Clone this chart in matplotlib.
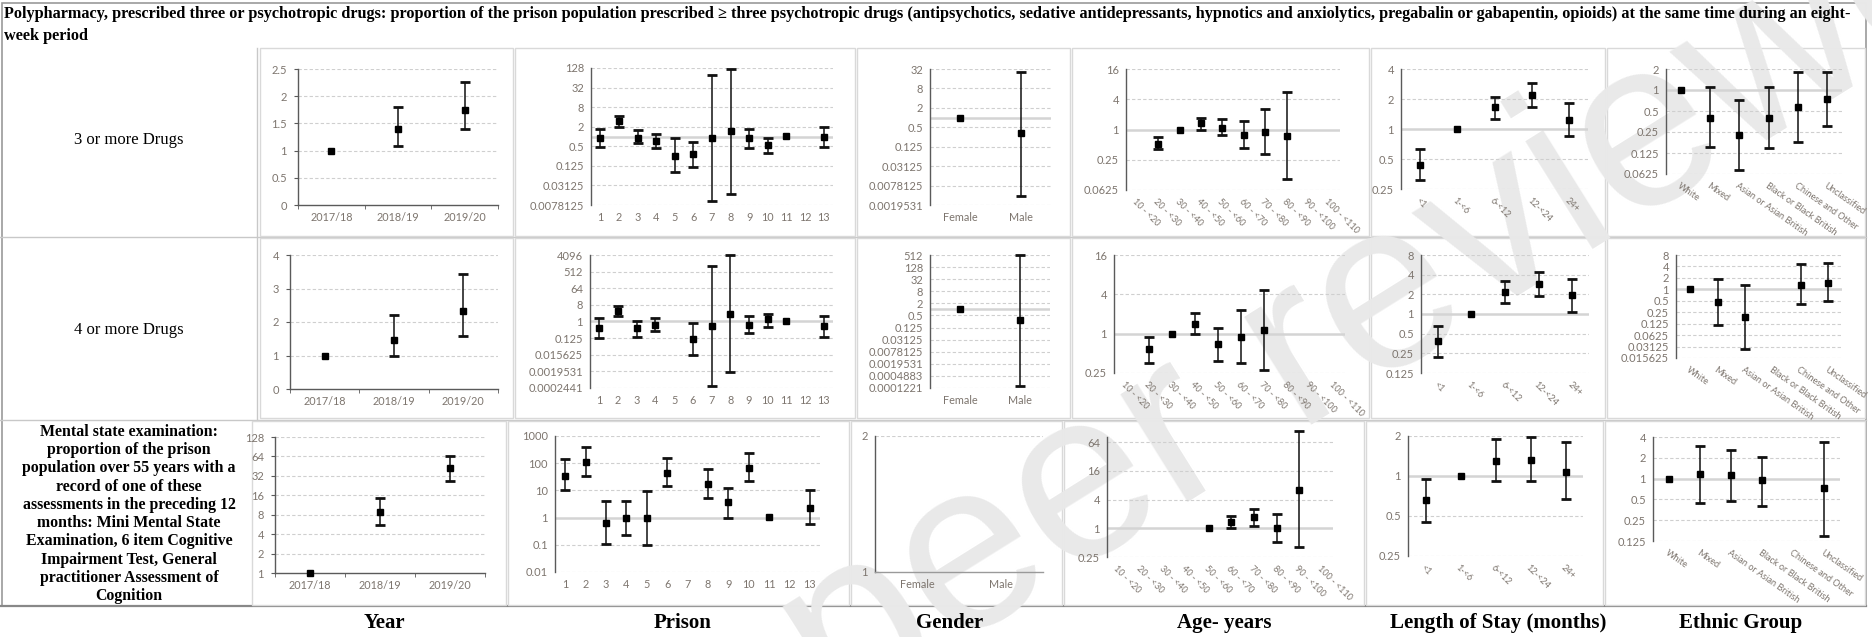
import numpy as np
import matplotlib
matplotlib.use("Agg")
import matplotlib.pyplot as plt
from matplotlib.patches import Rectangle
from matplotlib.ticker import NullLocator, FixedLocator

NaN = np.nan

# ---------------- categories ----------------
years = ["2017/18", "2018/19", "2019/20"]
prisons = ["1", "2", "3", "4", "5", "6", "7", "8", "9", "10", "11", "12", "13"]
genders = ["Female", "Male"]
ages = ["10 - <20", "20 - <30", "30 - <40", "40 - <50", "50 - <60", "60 - <70",
        "70 - <80", "80 - <90", "90 - <100", "100 - <110"]
stays = ["<1", "1-<6", "6-<12", "12-<24", "24+"]
ethnic = ["White", "Mixed", "Asian or Asian British", "Black or Black British",
          "Chinese and Other", "Unclassified"]

# ---------------- row 1: 3 or more drugs ----------------
r1_year_est = [1, 1.40, 1.75]
r1_year_lo = [NaN, 1.08, 1.40]
r1_year_hi = [NaN, 1.80, 2.27]
r1_prison_est = [0.87, 3.0, 0.93, 0.73, 0.25, 0.28, 0.87, 1.43, 0.87, 0.54, 1.05, NaN, 0.95]
r1_prison_lo = [0.48, 2.0, 0.61, 0.44, 0.08, 0.118, 0.0103, 0.0165, 0.45, 0.30, NaN, NaN, 0.48]
r1_prison_hi = [1.7, 4.35, 1.53, 1.18, 0.89, 0.67, 77, 121, 1.7, 0.93, NaN, NaN, 2.0]
r1_gender_est = [1, 0.33]
r1_gender_lo = [NaN, 0.0037]
r1_gender_hi = [NaN, 25.8]
r1_age_est = [NaN, 0.51, 1, 1.32, 1.06, 0.79, 0.88, 0.74, NaN, NaN]
r1_age_lo = [NaN, 0.40, NaN, 1.0, 0.77, 0.43, 0.33, 0.104, NaN, NaN]
r1_age_hi = [NaN, 0.71, NaN, 1.69, 1.59, 1.49, 2.56, 5.7, NaN, NaN]
r1_stay_est = [0.44, 1, 1.67, 2.19, 1.22]
r1_stay_lo = [0.31, NaN, 1.26, 1.66, 0.85]
r1_stay_hi = [0.63, NaN, 2.11, 2.9, 1.84]
r1_eth_est = [1, 0.40, 0.23, 0.40, 0.57, 0.74]
r1_eth_lo = [NaN, 0.15, 0.072, 0.148, 0.18, 0.30]
r1_eth_hi = [NaN, 1.1, 0.71, 1.1, 1.79, 1.79]

# ---------------- row 2: 4 or more drugs ----------------
r2_year_est = [1, 1.45, 2.33]
r2_year_lo = [NaN, 0.98, 1.58]
r2_year_hi = [NaN, 2.22, 3.42]
r2_prison_est = [0.47, 3.5, 0.42, 0.66, NaN, 0.107, 0.56, 2.5, 0.66, 1.34, 1.1, NaN, 0.56]
r2_prison_lo = [0.13, 1.94, 0.15, 0.29, NaN, 0.0146, 0.00032, 0.0017, 0.24, 0.51, NaN, NaN, 0.15]
r2_prison_hi = [1.5, 6.7, 1.13, 1.5, NaN, 0.78, 980, 4200, 2.1, 2.5, NaN, NaN, 2.1]
r2_gender_est = [1, 0.29]
r2_gender_lo = [NaN, 0.00016]
r2_gender_hi = [NaN, 540]
r2_age_est = [NaN, 0.58, 1, 1.41, 0.69, 0.89, 1.13, NaN, NaN, NaN]
r2_age_lo = [NaN, 0.36, NaN, 1.0, 0.38, 0.36, 0.275, NaN, NaN, NaN]
r2_age_hi = [NaN, 0.88, NaN, 2.05, 1.24, 2.29, 4.64, NaN, NaN, NaN]
r2_stay_est = [0.38, 1, 2.14, 2.88, 1.95]
r2_stay_lo = [0.22, NaN, 1.47, 1.86, 1.06]
r2_stay_hi = [0.66, NaN, 3.2, 4.35, 3.43]
r2_eth_est = [1, 0.46, 0.19, NaN, 1.30, 1.47]
r2_eth_lo = [NaN, 0.115, 0.027, NaN, 0.42, 0.48]
r2_eth_hi = [NaN, 1.84, 1.33, NaN, 4.6, 5.0]

# ---------------- row 3: mental state examination ----------------
r3_year_est = [1, 8.9, 42.5]
r3_year_lo = [NaN, 5.6, 26.8]
r3_year_hi = [NaN, 14.3, 65]
r3_prison_est = [35, 108, 0.66, 0.95, 0.95, 45, NaN, 17.7, 3.7, 69, 1.08, NaN, 2.3]
r3_prison_lo = [10.4, 35, 0.11, 0.22, 0.10, 14.6, NaN, 5.1, 1.0, 23, NaN, NaN, 0.6]
r3_prison_hi = [139, 395, 4.2, 4.2, 9.3, 152, NaN, 62, 12.6, 245, NaN, NaN, 10.4]
r3_gender_est = [NaN, NaN]
r3_gender_lo = [NaN, NaN]
r3_gender_hi = [NaN, NaN]
r3_age_est = [NaN, NaN, NaN, NaN, 1, 1.36, 1.70, 1.03, 6.5, NaN]
r3_age_lo = [NaN, NaN, NaN, NaN, NaN, 1.0, 1.13, 0.52, 0.40, NaN]
r3_age_hi = [NaN, NaN, NaN, NaN, NaN, 1.83, 2.53, 2.02, 108, NaN]
r3_stay_est = [0.66, 1, 1.30, 1.33, 1.08]
r3_stay_lo = [0.45, NaN, 0.91, 0.91, 0.67]
r3_stay_hi = [0.95, NaN, 1.89, 1.98, 1.80]
r3_eth_est = [1, 1.17, 1.12, 0.95, NaN, 0.72]
r3_eth_lo = [NaN, 0.45, 0.47, 0.40, NaN, 0.15]
r3_eth_hi = [NaN, 3.0, 2.6, 2.08, NaN, 3.4]

# ---------------- y tick labels ----------------
yt_r1_year = ["0", "0.5", "1", "1.5", "2", "2.5"]
yt_r1_prison = ["0.0078125", "0.03125", "0.125", "0.5", "2", "8", "32", "128"]
yt_r1_gender = ["0.0019531", "0.0078125", "0.03125", "0.125", "0.5", "2", "8", "32"]
yt_r1_age = ["0.0625", "0.25", "1", "4", "16"]
yt_r1_stay = ["0.25", "0.5", "1", "2", "4"]
yt_r1_eth = ["0.0625", "0.125", "0.25", "0.5", "1", "2"]
yt_r2_year = ["0", "1", "2", "3", "4"]
yt_r2_prison = ["0.0002441", "0.0019531", "0.015625", "0.125", "1", "8", "64", "512", "4096"]
yt_r2_gender = ["0.0001221", "0.0004883", "0.0019531", "0.0078125", "0.03125", "0.125",
                "0.5", "2", "8", "32", "128", "512"]
yt_r2_age = ["0.25", "1", "4", "16"]
yt_r2_stay = ["0.125", "0.25", "0.5", "1", "2", "4", "8"]
yt_r2_eth = ["0.015625", "0.03125", "0.0625", "0.125", "0.25", "0.5", "1", "2", "4", "8"]
yt_r3_year = ["1", "2", "4", "8", "16", "32", "64", "128"]
yt_r3_prison = ["0.01", "0.1", "1", "10", "100", "1000"]
yt_r3_gender = ["1", "2"]
yt_r3_age = ["0.25", "1", "4", "16", "64"]
yt_r3_stay = ["0.25", "0.5", "1", "2"]
yt_r3_eth = ["0.125", "0.25", "0.5", "1", "2", "4"]

header_l1 = ("Polypharmacy, prescribed three or psychotropic drugs: proportion of the prison population "
             "prescribed \u2265 three psychotropic drugs (antipsychotics, sedative antidepressants, hypnotics "
             "and anxiolytics, pregabalin or gabapentin, opioids) at the same time during an eight-")
header_l2 = "week period"
row_labels = ["3 or more Drugs", "4 or more Drugs"]
row3_label = ("Mental state examination:\nproportion of the prison\npopulation over 55 years with a\n"
              "record of one of these\nassessments in the preceding 12\nmonths: Mini Mental State\n"
              "Examination, 6 item Cognitive\nImpairment Test, General\npractitioner Assessment of\nCognition")
col_labels = ["Year", "Prison", "Gender", "Age- years", "Length of Stay (months)", "Ethnic Group"]
watermark = "peer reviewed"

# ---------------- layout (pixels) ----------------
W, H = 1872, 637
fig = plt.figure(figsize=(W / 100, H / 100), dpi=100)
bg = fig.add_axes([0, 0, 1, 1])
bg.set_xlim(0, W)
bg.set_ylim(H, 0)
bg.axis("off")

SERIF = ["Liberation Serif", "DejaVu Serif"]
SANS = ["Lato", "DejaVu Sans"]
TICKC = "#7d756e"
AXC = "#5a5a5a"
GRIDC = "#cfcfcf"

# table border
bg.add_patch(Rectangle((1.5, 2.5), 1864, 603, fill=False, ec="#9a9a9a", lw=1.2, zorder=1))
bg.plot([0, 1866], [236.5, 236.5], color="#c8c8c8", lw=1, zorder=1)
bg.plot([0, 1866], [419.5, 419.5], color="#c8c8c8", lw=1, zorder=1)
bg.plot([257, 257], [48, 605], color="#c8c8c8", lw=1, zorder=1)
bg.plot([0, 1866], [605.5, 605.5], color="#888888", lw=1.6, zorder=1)

bg.text(4, 14, header_l1, family=SERIF, weight="bold", fontsize=11.7, va="center", ha="left", zorder=5)
bg.text(4, 36, header_l2, family=SERIF, weight="bold", fontsize=11.7, va="center", ha="left", zorder=5)
bg.text(129, 140, row_labels[0], family=SERIF, fontsize=12, ha="center", va="center", zorder=5)
bg.text(129, 330, row_labels[1], family=SERIF, fontsize=12, ha="center", va="center", zorder=5)
bg.text(129, 514, row3_label, family=SERIF, weight="bold", fontsize=11.4, ha="center",
        va="center", multialignment="center", linespacing=1.19, zorder=5)
for lab, cx in zip(col_labels, [384, 683, 950, 1224, 1498, 1741]):
    bg.text(cx, 623, lab, family=SERIF, weight="bold", fontsize=15, ha="center", va="center", zorder=5)

boxes = {
    0: (48, 236, [259, 514, 856, 1071, 1370, 1606, 1866]),
    1: (238, 418, [259, 514, 856, 1071, 1370, 1606, 1866]),
    2: (421, 605, [251, 507, 850, 1063, 1365, 1604, 1866]),
}
for r, (y0, y1, xs) in boxes.items():
    for c in range(6):
        bg.add_patch(Rectangle((xs[c] + 1, y0), xs[c + 1] - xs[c] - 2, y1 - y0,
                               fc="white", ec="#d9d9d9", lw=1, zorder=2))

# watermark, under the plot contents
bg.text(1440, 272, watermark, rotation=32, fontsize=172, color="#e9e9e9",
        ha="center", va="center", rotation_mode="anchor",
        family=["Liberation Sans", "DejaVu Sans"], zorder=3)

plot_areas = {
    (0, 0): (298, 498, 69, 205), (0, 1): (591, 833, 68, 205), (0, 2): (930, 1051, 69, 205),
    (0, 3): (1126, 1340, 69, 190), (0, 4): (1401, 1588, 69, 189), (0, 5): (1666, 1842, 69, 174),
    (1, 0): (290, 498, 255, 389), (1, 1): (590, 833, 255, 388), (1, 2): (930, 1050, 255, 388),
    (1, 3): (1114, 1345, 255, 373), (1, 4): (1421, 1589, 255, 373), (1, 5): (1676, 1842, 255, 358),
    (2, 0): (275, 485, 437, 573), (2, 1): (555, 820, 436, 572), (2, 2): (875, 1043, 436, 572),
    (2, 3): (1107, 1333, 437, 557), (2, 4): (1408, 1583, 436, 556), (2, 5): (1653, 1840, 437, 541),
}

panels = [
    # row, col, cats, est, lo, hi, scale, yticklabels, ymax override, rotation
    (0, 0, years, r1_year_est, r1_year_lo, r1_year_hi, "lin", yt_r1_year, None, 0),
    (0, 1, prisons, r1_prison_est, r1_prison_lo, r1_prison_hi, 2, yt_r1_prison, None, 0),
    (0, 2, genders, r1_gender_est, r1_gender_lo, r1_gender_hi, 2, yt_r1_gender, None, 0),
    (0, 3, ages, r1_age_est, r1_age_lo, r1_age_hi, 2, yt_r1_age, None, -45),
    (0, 4, stays, r1_stay_est, r1_stay_lo, r1_stay_hi, 2, yt_r1_stay, None, -45),
    (0, 5, ethnic, r1_eth_est, r1_eth_lo, r1_eth_hi, 2, yt_r1_eth, None, -35),
    (1, 0, years, r2_year_est, r2_year_lo, r2_year_hi, "lin", yt_r2_year, None, 0),
    (1, 1, prisons, r2_prison_est, r2_prison_lo, r2_prison_hi, 2, yt_r2_prison, None, 0),
    (1, 2, genders, r2_gender_est, r2_gender_lo, r2_gender_hi, 2, yt_r2_gender, None, 0),
    (1, 3, ages, r2_age_est, r2_age_lo, r2_age_hi, 2, yt_r2_age, None, -45),
    (1, 4, stays, r2_stay_est, r2_stay_lo, r2_stay_hi, 2, yt_r2_stay, None, -45),
    (1, 5, ethnic, r2_eth_est, r2_eth_lo, r2_eth_hi, 2, yt_r2_eth, None, -35),
    (2, 0, years, r3_year_est, r3_year_lo, r3_year_hi, 2, yt_r3_year, None, 0),
    (2, 1, prisons, r3_prison_est, r3_prison_lo, r3_prison_hi, 10, yt_r3_prison, None, 0),
    (2, 2, genders, r3_gender_est, r3_gender_lo, r3_gender_hi, "lin", yt_r3_gender, None, 0),
    (2, 3, ages, r3_age_est, r3_age_lo, r3_age_hi, 2, yt_r3_age, 82, -45),
    (2, 4, stays, r3_stay_est, r3_stay_lo, r3_stay_hi, 2, yt_r3_stay, None, -45),
    (2, 5, ethnic, r3_eth_est, r3_eth_lo, r3_eth_hi, 2, yt_r3_eth, None, -35),
]

for (r, c, cats, est, lo, hi, scale, ytl, ymax, rot) in panels:
    x0, x1, y0, y1 = plot_areas[(r, c)]
    ax = fig.add_axes([x0 / W, 1 - y1 / H, (x1 - x0) / W, (y1 - y0) / H])
    ax.patch.set_alpha(0)
    n = len(cats)
    xpos = np.arange(n)
    yvals = [float(t) for t in ytl]
    if scale != "lin":
        ax.set_yscale("log", base=scale)
    ax.set_ylim(yvals[0], ymax if ymax else yvals[-1])
    ax.set_xlim(-0.5, n - 0.5)
    ax.set_yticks(yvals)
    ax.set_yticklabels(ytl)
    ax.yaxis.set_minor_locator(NullLocator())
    for s in ["top", "right"]:
        ax.spines[s].set_visible(False)
    ax.spines["left"].set_color(AXC)
    ax.spines["left"].set_linewidth(1.0)
    is_year = (c == 0)
    axis_at_one = (scale != "lin") and yvals[0] < 1
    for v in yvals:
        if v == yvals[0] and not axis_at_one:
            continue
        if axis_at_one and v == 1:
            continue
        ax.axhline(v, color=GRIDC, lw=0.8, ls=(0, (3, 2)), zorder=1)
    if axis_at_one:
        ax.axhline(1, color="#d4d4d4", lw=1.8, zorder=1)
        ax.spines["bottom"].set_visible(False)
    else:
        ax.spines["bottom"].set_color(AXC if is_year else "#9a9a9a")
        ax.spines["bottom"].set_linewidth(1.0)
    ax.set_xticks(xpos)
    if rot == 0:
        ax.set_xticklabels(cats)
        ax.tick_params(axis="x", labelsize=7.8)
    else:
        ax.set_xticklabels(cats, rotation=rot, ha="left", va="top", rotation_mode="anchor")
        ax.tick_params(axis="x", labelsize=6.6)
    ax.tick_params(axis="y", labelsize=8)
    ax.tick_params(axis="both", labelcolor=TICKC, length=0, pad=5)
    if is_year:
        ax.tick_params(axis="y", length=3, color=AXC, direction="out")
        ax.xaxis.set_minor_locator(FixedLocator(np.arange(-0.5, n, 1.0)))
        ax.tick_params(axis="x", which="minor", length=3, color=AXC, direction="out")
    for lab in ax.get_xticklabels() + ax.get_yticklabels():
        lab.set_fontfamily(SANS)
    e = np.array(est, dtype=float)
    l = np.array(lo, dtype=float)
    h = np.array(hi, dtype=float)
    has_ci = np.isfinite(l) & np.isfinite(h) & np.isfinite(e)
    if has_ci.any():
        ax.errorbar(xpos[has_ci], e[has_ci],
                    yerr=[e[has_ci] - l[has_ci], h[has_ci] - e[has_ci]],
                    fmt="none", ecolor="#111111", elinewidth=1.1, capsize=3.3,
                    capthick=2.0, zorder=3, clip_on=False)
    ok = np.isfinite(e)
    ax.plot(xpos[ok], e[ok], ls="none", marker="s", ms=4.2, color="black", zorder=4,
            clip_on=False)

fig.savefig("out.png", dpi=100)
